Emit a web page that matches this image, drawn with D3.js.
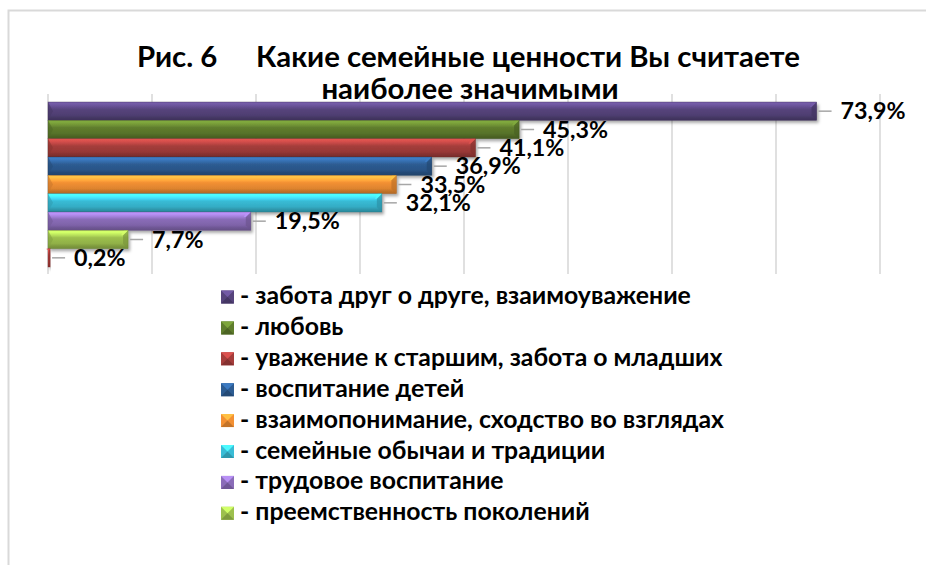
<!DOCTYPE html>
<html><head><meta charset="utf-8">
<script src="https://cdn.jsdelivr.net/npm/d3@7"></script>
<style>html,body{margin:0;padding:0;background:#fff;}svg{display:block;}</style>
</head><body>
<svg id="chart" width="926" height="565"></svg>
<script>
const categories = [
  "- забота друг о друге, взаимоуважение",
  "- любовь",
  "- уважение к старшим, забота о младших",
  "- воспитание детей",
  "- взаимопонимание, сходство во взглядах",
  "- семейные обычаи и традиции",
  "- трудовое воспитание",
  "- преемственность поколений",
  "- другое"
];
const values = [73.9, 45.3, 41.1, 36.9, 33.5, 32.1, 19.5, 7.7, 0.2];
const valueLabels = ["73,9%", "45,3%", "41,1%", "36,9%", "33,5%", "32,1%", "19,5%", "7,7%", "0,2%"];
const colors = ["#56447c", "#5f7d2d", "#a53d3b", "#2d5c92", "#f39033", "#39bcd6", "#8a6cb8", "#9dc04e", "#b8403d"];
const gridTicks = [0, 10, 20, 30, 40, 50, 60, 70, 80];
const legendCount = 8;
const titleLine1a = "Рис. 6";
const titleLine1b = "Какие семейные ценности Вы считаете";
const titleLine2 = "наиболее значимыми";

const svg = d3.select("#chart");
const FONT = "Lato, 'Open Sans', sans-serif";

// fit font-size so that a text takes a given width
function fitSize(str, target) {
  const t = svg.append("text").attr("font-family", FONT).attr("font-weight", 700).attr("font-size", 20).text(str);
  const w = t.node().getComputedTextLength();
  t.remove();
  return 20 * target / w;
}

// chart border
svg.append("path").attr("d", "M8.5,565 L8.5,10.5 L926,10.5")
  .attr("fill", "none").attr("stroke", "#d9d9d9").attr("stroke-width", 2);

const x = d3.scaleLinear().domain([0, 80]).range([48, 880]);
const y = d3.scaleBand().domain(categories).range([102, 267]).padding(0);

// gridlines
svg.append("g").selectAll("line").data(gridTicks).join("line")
  .attr("x1", d => x(d)).attr("x2", d => x(d))
  .attr("y1", 94).attr("y2", 274)
  .attr("stroke", "#d9d9d9").attr("stroke-width", 1.6);

const defs = svg.append("defs");
const f = defs.append("filter").attr("id", "sh").attr("x", "-5%").attr("y", "-30%").attr("width", "115%").attr("height", "180%");
f.append("feDropShadow").attr("dx", 2).attr("dy", 2.5).attr("stdDeviation", 1.6).attr("flood-color", "#000").attr("flood-opacity", 0.35);

colors.forEach((c, i) => {
  const base = d3.color(c);
  const g = defs.append("linearGradient").attr("id", "g" + i).attr("x1", 0).attr("y1", 0).attr("x2", 0).attr("y2", 1);
  const stops = [
    [0, base.brighter(0.9)], [0.12, base.brighter(0.8)], [0.28, base.brighter(0.4)],
    [0.4, base], [0.72, base.darker(0.25)], [0.85, base.darker(0.6)], [1, base.darker(0.9)]
  ];
  stops.forEach(([o, col]) => g.append("stop").attr("offset", o).attr("stop-color", col.formatHex()));
});

// bars
const bars = svg.append("g");
categories.forEach((cat, i) => {
  const x0 = x(0), x1 = x(values[i]), yt = y(cat), h = y.bandwidth();
  const gb = bars.append("g");
  gb.append("rect").attr("x", x0).attr("y", yt).attr("width", x1 - x0).attr("height", h)
    .attr("fill", `url(#g${i})`).attr("filter", "url(#sh)");
  const base = d3.color(colors[i]);
  const b = Math.min(5, (x1 - x0) / 2);
  gb.append("path").attr("d", `M${x0},${yt} L${x0 + b},${yt + h / 2} L${x0},${yt + h} Z`)
    .attr("fill", base.darker(0.5).formatHex()).attr("opacity", 0.6);
  gb.append("path").attr("d", `M${x1},${yt} L${x1 - b},${yt + b} L${x1 - b},${yt + h - b} L${x1},${yt + h} Z`)
    .attr("fill", base.darker(0.7).formatHex()).attr("opacity", 0.7);
  gb.append("path").attr("d", `M${x1},${yt} L${x1 - b},${yt + b} L${x1 - b - 2},${yt + b} L${x1 - 4},${yt} Z`)
    .attr("fill", base.brighter(0.9).formatHex()).attr("opacity", 0.7);
  gb.append("rect").attr("x", x0).attr("y", yt).attr("width", x1 - x0).attr("height", h)
    .attr("fill", "none").attr("stroke", base.darker(1.2).formatHex()).attr("stroke-width", 0.6).attr("opacity", 0.6);
});

// value labels
const labelSize = fitSize(valueLabels[0], 65);
const labels = svg.append("g");
categories.forEach((cat, i) => {
  const xe = x(values[i]), yc = y(cat) + y.bandwidth() / 2;
  labels.append("line").attr("x1", xe + 2).attr("x2", xe + 15).attr("y1", yc).attr("y2", yc)
    .attr("stroke", "#a6a6a6").attr("stroke-width", 1.5);
  labels.append("text").attr("x", xe + 24).attr("y", yc + 8)
    .attr("font-family", FONT).attr("font-weight", 700).attr("font-size", labelSize).attr("fill", "#000")
    .text(valueLabels[i]);
});

// title
const titleSize = fitSize(titleLine1b, 544);
const t1 = svg.append("text").attr("y", 67).attr("font-family", FONT).attr("font-weight", 700)
  .attr("font-size", titleSize).attr("fill", "#000");
t1.append("tspan").attr("x", 137).text(titleLine1a);
t1.append("tspan").attr("x", 256).text(titleLine1b);
svg.append("text").attr("x", 470).attr("y", 99).attr("text-anchor", "middle")
  .attr("font-family", FONT).attr("font-weight", 700).attr("font-size", titleSize).attr("fill", "#000")
  .text(titleLine2);

// legend
const legendSize = fitSize(categories[0], 451);
const lg = svg.append("g");
categories.slice(0, legendCount).forEach((cat, i) => {
  const yc = 297 + i * 30.9;
  const base = d3.color(colors[i]);
  const s = 13, lx = 221, ly = yc - 6.5;
  lg.append("rect").attr("x", lx).attr("y", ly).attr("width", s).attr("height", s).attr("fill", base.formatHex());
  lg.append("path").attr("d", `M${lx},${ly} L${lx + s},${ly} L${lx + s / 2},${ly + s / 2} Z`).attr("fill", base.brighter(0.8).formatHex());
  lg.append("path").attr("d", `M${lx},${ly + s} L${lx + s},${ly + s} L${lx + s / 2},${ly + s / 2} Z`).attr("fill", base.darker(0.6).formatHex());
  lg.append("text").attr("x", 240).attr("y", yc + 7).attr("font-family", FONT).attr("font-weight", 700)
    .attr("font-size", legendSize).attr("fill", "#000").text(cat);
});
</script>
</body></html>
